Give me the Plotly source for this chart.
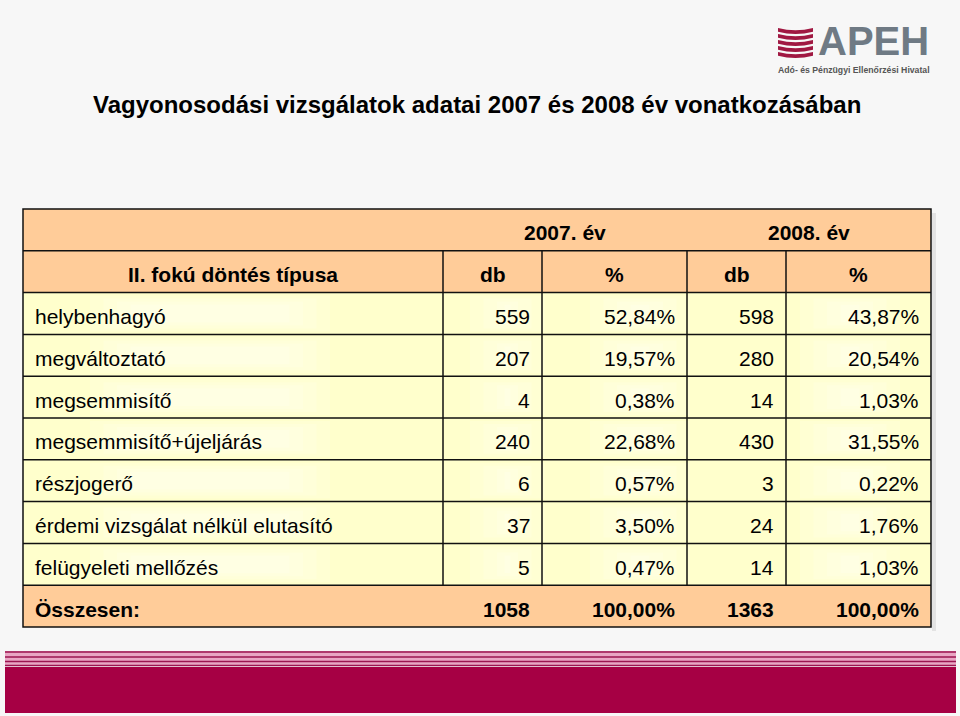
import plotly.graph_objects as go

# ---------------- data ----------------
title = "Vagyonosodási vizsgálatok adatai 2007 és 2008 év vonatkozásában"
year_labels = ["2007. év", "2008. év"]
col_headers = ["II. fokú döntés típusa", "db", "%", "db", "%"]
categories = [
    "helybenhagyó",
    "megváltoztató",
    "megsemmisítő",
    "megsemmisítő+újeljárás",
    "részjogerő",
    "érdemi vizsgálat nélkül elutasító",
    "felügyeleti mellőzés",
]
db_2007 = [559, 207, 4, 240, 6, 37, 5]
pct_2007 = [52.84, 19.57, 0.38, 22.68, 0.57, 3.50, 0.47]
db_2008 = [598, 280, 14, 430, 3, 24, 14]
pct_2008 = [43.87, 20.54, 1.03, 31.55, 0.22, 1.76, 1.03]
total_label = "Összesen:"
total_db_2007 = 1058
total_pct_2007 = 100.00
total_db_2008 = 1363
total_pct_2008 = 100.00

# ---------------- layout / style ----------------
W, H = 960, 716
FONT = "Liberation Sans, Arial, sans-serif"
PEACH = "#FFCC99"
YELLOW = "#FFFFCC"
col_edges = [23, 443, 542, 687, 786, 931]
top = 209
n_rows = 2 + len(categories) + 1
row_h = (627 - top) / n_rows
FS = 21


def fmt_pct(v):
    return f"{v:.2f}".replace(".", ",") + "%"


shapes = []
ann = []

# row fills
for r in range(n_rows):
    y0 = top + r * row_h
    fill = PEACH if (r < 2 or r == n_rows - 1) else YELLOW
    shapes.append(dict(type="rect", x0=col_edges[0], x1=col_edges[-1], y0=y0, y1=y0 + row_h,
                       fillcolor=fill, line_width=0, layer="below"))
    if 2 <= r < n_rows - 1:
        # soft light glow inside yellow cells (layered for a gradient feel)
        for cx0, cx1 in [(90, 330), (470, 545), (590, 690), (800, 900)]:
            for k in range(4):
                inset = k * 9
                shapes.append(dict(type="rect", x0=cx0 + inset * 1.5, x1=cx1 - inset * 1.5,
                                   y0=y0 + 3 + k * 3, y1=y0 + row_h - 3 - k * 3,
                                   fillcolor="rgba(255,255,255,0.15)", line_width=0, layer="below"))

# table shadow
shapes.append(dict(type="rect", x0=col_edges[-1] + 1, x1=col_edges[-1] + 5, y0=top + 4,
                   y1=top + n_rows * row_h + 4, fillcolor="rgba(0,0,0,0.08)", line_width=0, layer="below"))

# horizontal lines
for r in range(1, n_rows):
    y = top + r * row_h
    shapes.append(dict(type="line", x0=col_edges[0], x1=col_edges[-1], y0=y, y1=y,
                       line=dict(color="#111", width=1.5)))
# vertical inner lines (rows 2..n-1)
for x in col_edges[1:-1]:
    shapes.append(dict(type="line", x0=x, x1=x, y0=top + row_h, y1=top + (n_rows - 1) * row_h,
                       line=dict(color="#111", width=1.5)))
# outer border
shapes.append(dict(type="rect", x0=col_edges[0], x1=col_edges[-1], y0=top, y1=top + n_rows * row_h,
                   line=dict(color="#111", width=1.5)))


def text(x, y, s, anchor="left", bold=False, size=FS, color="#000"):
    ann.append(dict(x=x, y=y, xref="x", yref="y", text=f"<b>{s}</b>" if bold else s,
                    showarrow=False, xanchor=anchor, yanchor="middle",
                    font=dict(family=FONT, size=size, color=color)))


def rc(r):
    return top + r * row_h + row_h / 2 + 3


# header row 1: year labels
text((col_edges[1] + col_edges[3]) / 2, rc(0), year_labels[0], "center", True)
text((col_edges[3] + col_edges[5]) / 2, rc(0), year_labels[1], "center", True)
# header row 2
for i, h in enumerate(col_headers):
    text((col_edges[i] + col_edges[i + 1]) / 2, rc(1), h, "center", True)

pad = 10
for i, cat in enumerate(categories):
    r = 2 + i
    text(col_edges[0] + pad, rc(r), cat)
    text(col_edges[2] - pad, rc(r), str(db_2007[i]), "right")
    text(col_edges[3] - pad, rc(r), fmt_pct(pct_2007[i]), "right")
    text(col_edges[4] - pad, rc(r), str(db_2008[i]), "right")
    text(col_edges[5] - pad, rc(r), fmt_pct(pct_2008[i]), "right")

r = n_rows - 1
text(col_edges[0] + pad, rc(r), total_label, bold=True)
text(col_edges[2] - pad, rc(r), str(total_db_2007), "right", True)
text(col_edges[3] - pad, rc(r), fmt_pct(total_pct_2007), "right", True)
text(col_edges[4] - pad, rc(r), str(total_db_2008), "right", True)
text(col_edges[5] - pad, rc(r), fmt_pct(total_pct_2008), "right", True)

# title
text(477, 104, title, "center", True, 24)

# bottom band with stripes
shapes.append(dict(type="rect", x0=5, x1=956, y0=651, y1=666, fillcolor="#E9A6C4", line_width=0))
for yy in [652, 657, 661.5, 665.5]:
    shapes.append(dict(type="line", x0=5, x1=956, y0=yy, y1=yy, line=dict(color="#9B1550", width=1.6)))
shapes.append(dict(type="rect", x0=5, x1=956, y0=667, y1=713, fillcolor="#A60044", line_width=0))

# logo
for k in range(5):
    y = 28 + k * 6
    shapes.append(dict(type="path",
                       path=f"M 778 {y} Q 795.5 {y + 4.5} 813 {y} L 813 {y + 3.8} Q 795.5 {y + 8.3} 778 {y + 3.8} Z",
                       fillcolor="#A01842", line_width=0))
ann.append(dict(x=816, y=41, xref="x", yref="y", text="<b>APEH</b>", showarrow=False,
                xanchor="left", yanchor="middle", font=dict(family=FONT, size=40, color="#6F7A84")))
ann.append(dict(x=854, y=70, xref="x", yref="y", text="<b>Adó- és Pénzügyi Ellenőrzési Hivatal</b>",
                showarrow=False, xanchor="center", yanchor="middle",
                font=dict(family=FONT, size=8.7, color="#555")))

fig = go.Figure()
fig.update_layout(
    width=W, height=H, margin=dict(l=0, r=0, t=0, b=0),
    paper_bgcolor="#F7F7F7", plot_bgcolor="#F7F7F7",
    xaxis=dict(range=[0, W], visible=False, fixedrange=True),
    yaxis=dict(range=[H, 0], visible=False, fixedrange=True),
    shapes=shapes, annotations=ann, showlegend=False,
)
fig.write_html("out.html", config={"displayModeBar": False},
               post_script="document.body.style.margin='0';document.body.style.overflow='hidden';")
